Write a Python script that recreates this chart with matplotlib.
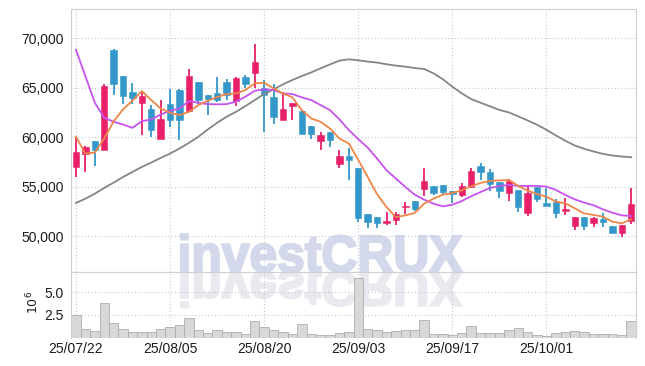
import matplotlib
matplotlib.use('Agg')
import matplotlib.pyplot as plt
from matplotlib import font_manager as fm
from matplotlib.textpath import TextPath
from matplotlib.patches import PathPatch
from matplotlib.font_manager import FontProperties
from matplotlib.transforms import Affine2D
from matplotlib.ticker import FuncFormatter

# narrow font if the box has it, otherwise plain Liberation Sans
try:
    fm.findfont(FontProperties(family='Liberation Sans Narrow'), fallback_to_default=False)
    label_font = 'Liberation Sans Narrow'
    label_size = 10.5
except ValueError:
    label_font = 'Liberation Sans'
    label_size = 10
plt.rcParams['font.family'] = [label_font, 'DejaVu Sans']

# daily candles, 25/07/22 .. 25/10/xx (trading days)
opens = [56950, 58250, 59570, 58650, 68810, 66170, 64580, 63460, 62820, 59840,
         63330, 64750, 62610, 65590, 64240, 64510, 65590, 63660, 66100, 66510,
         65020, 64070, 61700, 63150, 62640, 61090, 59600, 60510, 57300, 58070,
         56850, 52220, 51950, 51340, 51640, 52890, 53570, 54760, 55100, 55150,
         54550, 54140, 54980, 57070, 56440, 55460, 54310, 54650, 52350, 54980,
         53300, 53440, 52530, 51040, 51920, 51350, 51720, 51010, 50270, 51550]
highs = [60000, 59100, 59570, 65360, 68910, 66170, 65430, 64580, 63220, 63730,
         64820, 64820, 66850, 65590, 64240, 66040, 65830, 66040, 66270, 69420,
         65760, 65360, 64580, 63460, 62640, 61090, 60510, 60510, 58720, 58930,
         56850, 52220, 51950, 52380, 52380, 53400, 53570, 56850, 55100, 55150,
         54550, 55320, 56840, 57340, 56740, 55460, 55730, 54650, 55150, 54980,
         54820, 53710, 53840, 51950, 51920, 51950, 52350, 51010, 51110, 54820]
lows = [55950, 56450, 57130, 58650, 64240, 63400, 63400, 60250, 60000, 59770,
        61020, 59740, 62540, 63400, 62280, 63560, 63730, 63190, 64980, 64920,
        60510, 61360, 61700, 61770, 60280, 59840, 58720, 58990, 56850, 55670,
        51370, 50800, 50800, 51100, 51100, 52220, 52560, 54080, 54180, 54140,
        53300, 53970, 54820, 55660, 54550, 53810, 53540, 52460, 52030, 53470,
        53000, 51850, 52160, 50610, 50610, 50880, 50940, 50270, 49930, 51180]
closes = [58480, 59000, 58650, 65150, 65360, 64170, 63970, 64140, 60750, 61800,
          61700, 61700, 66170, 63800, 63830, 63800, 64240, 65940, 65360, 67620,
          64240, 62030, 62820, 63460, 60280, 60350, 60180, 59670, 58140, 57710,
          51870, 51370, 51270, 51540, 52220, 53060, 52730, 55600, 54350, 54480,
          54240, 55050, 56570, 56500, 55220, 54580, 55560, 52960, 54310, 53770,
          53060, 52350, 52760, 51890, 51010, 51850, 51450, 50330, 51110, 53230]

ma5 = [60030, 58340, 58440, 59860, 61600, 62800, 63700, 64660, 63750, 62900,
       62460, 62230, 62560, 63240, 63680, 64050, 64360, 64420, 64760, 65440,
       65500, 64930, 64420, 64020, 62730, 61890, 61550, 60870, 59860, 59350,
       57700, 55980, 54220, 52930, 51920, 52090, 52330, 53270, 53780, 54180,
       54350, 54620, 55030, 55370, 55570, 55620, 55670, 55070, 54590, 54250,
       53980, 53480, 53310, 52800, 52290, 52130, 51960, 51450, 51280, 51690]
ma10 = [68820, 66180, 63480, 61960, 61550, 61280, 60940, 61620, 61790, 62290,
        62670, 62900, 63650, 63480, 63340, 63320, 63340, 63580, 64090, 64690,
        64830, 64760, 64420, 64360, 64020, 63750, 63240, 62730, 61790, 60710,
        59800, 58950, 57830, 56650, 55810, 54960, 54180, 53680, 53270, 53000,
        53170, 53540, 54020, 54450, 54860, 55050, 55170, 55070, 55070, 55070,
        55000, 54660, 54150, 53710, 53380, 53110, 52700, 52360, 52090, 52020]
ma60 = [53340, 53780, 54280, 54860, 55400, 55970, 56480, 56990, 57430, 57900,
        58340, 58850, 59420, 60030, 60770, 61450, 62060, 62560, 63140, 63750,
        64360, 64830, 65340, 65780, 66180, 66550, 66960, 67360, 67740, 67870,
        67770, 67640, 67540, 67370, 67230, 67130, 66990, 66890, 66450, 65850,
        65100, 64430, 63850, 63480, 63120, 62750, 62500, 62100, 61690, 61250,
        60740, 60170, 59630, 59160, 58820, 58550, 58310, 58140, 58040, 57970]

# volume in millions
volume = [2.50, 0.96, 0.74, 3.79, 1.58, 0.96, 0.63, 0.63, 0.63, 0.96,
          1.14, 1.36, 2.13, 0.85, 0.51, 0.85, 0.63, 0.63, 0.40, 1.84,
          1.18, 0.85, 0.63, 0.40, 1.51, 0.40, 0.35, 0.30, 0.55, 0.66,
          6.54, 0.96, 0.85, 0.66, 0.74, 0.85, 0.85, 1.95, 0.40, 0.40,
          0.26, 0.48, 1.29, 0.55, 0.55, 0.55, 0.85, 1.07, 0.66, 0.29,
          0.18, 0.48, 0.63, 0.74, 0.63, 0.40, 0.40, 0.40, 0.29, 1.84]

tick_idx = [0, 10, 20, 30, 40, 50]
tick_labels = ['25/07/22', '25/08/05', '25/08/20', '25/09/03', '25/09/17', '25/10/01']
price_ticks = [50000, 55000, 60000, 65000, 70000]

UP = '#e8206a'
DOWN = '#3497c9'
GRID = '#c3c6da'
SPINE = '#cfcfcf'
TXT = '#1c1c1c'

fig = plt.figure(figsize=(6.45, 3.66), dpi=100)
ax = fig.add_axes([71 / 645, 1 - 272.3 / 366, 564.5 / 645, 263 / 366])
axv = fig.add_axes([71 / 645, 1 - 337.7 / 366, 564.5 / 645, 65.4 / 366])

x = list(range(len(closes)))
cols = [UP if c >= o else DOWN for o, c in zip(opens, closes)]
bottoms = [min(o, c) for o, c in zip(opens, closes)]
heights = [max(abs(c - o), 70) for o, c in zip(opens, closes)]

ax.vlines(x, lows, highs, colors=cols, linewidth=1.3, zorder=3)
ax.bar(x, heights, bottom=bottoms, width=0.68, color=cols, edgecolor=cols,
       linewidth=0.4, zorder=4)
ax.plot(x, ma60, color='#858585', lw=1.3, zorder=5)
ax.plot(x, ma10, color='#c653ef', lw=1.3, zorder=5)
ax.plot(x, ma5, color='#ef8548', lw=1.3, zorder=6)

ax.set_xlim(-0.53, 59.46)
ax.set_ylim(46330, 72930)
ax.set_yticks(price_ticks)
ax.yaxis.set_major_formatter(FuncFormatter(lambda v, p: f'{int(v):,}'))
ax.set_xticks(tick_idx)
ax.set_xticklabels([])
ax.set_axisbelow(True)
ax.grid(True, linestyle=(0, (1, 2)), color=GRID, linewidth=0.8)
ax.tick_params(length=0, labelsize=label_size, pad=5, colors=TXT)
for s in ax.spines.values():
    s.set_color(SPINE)
    s.set_linewidth(0.8)

axv.bar(x, volume, width=1.0, color='#d8d8d8', edgecolor='#adadad', linewidth=0.6)
axv.set_xlim(-0.53, 59.46)
axv.set_ylim(0, 7.2)
axv.set_yticks([2.5, 5.0])
axv.set_yticklabels(['2.5', '5.0'])
axv.set_xticks(tick_idx)
axv.set_xticklabels(tick_labels)
axv.set_axisbelow(True)
axv.grid(True, linestyle=(0, (1, 2)), color=GRID, linewidth=0.8)
axv.tick_params(length=0, labelsize=label_size, pad=5, colors=TXT)
axv.tick_params(axis='x', pad=3)
for s in axv.spines.values():
    s.set_color(SPINE)
    s.set_linewidth(0.8)
axv.spines['bottom'].set_visible(False)
fig.text(33 / 645, 1 - 302 / 366, r'$10^6$', rotation=90, ha='center', va='center',
         fontsize=9, color=TXT)

# watermark + its reflection
tp = TextPath((0, 0), 'investCRUX', size=100,
              prop=FontProperties(family='Liberation Sans', weight='bold'))
bb = tp.get_extents()
sx = 281 / bb.width
sy = 37.5 / bb.y1
tx = 181 - bb.x0 * sx
base = 366 - 271.7
wm = PathPatch(tp, transform=Affine2D().scale(sx, sy).translate(tx, base),
               facecolor='#d3d9ea', edgecolor='#d3d9ea', linewidth=1.6,
               zorder=0.3, clip_on=False)
ax.add_artist(wm)
refl = PathPatch(tp, transform=Affine2D().scale(sx, -sy * 0.95).translate(tx, base),
                 facecolor='#e9eaf0', edgecolor='#e9eaf0', linewidth=1.6, zorder=0.3)
axv.add_artist(refl)

fig.savefig('out.png', dpi=100)
